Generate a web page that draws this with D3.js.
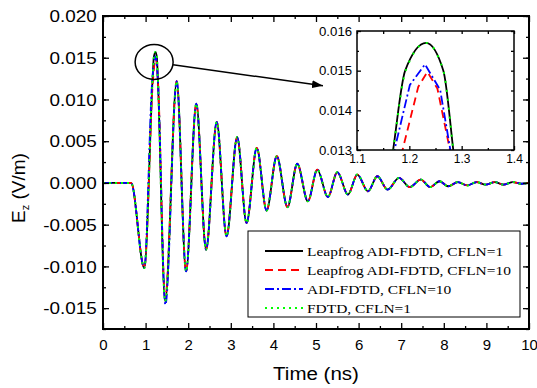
<!DOCTYPE html>
<html>
<head>
<meta charset="utf-8">
<script src="https://cdn.jsdelivr.net/npm/d3@7"></script>
<style>
  body { margin: 0; background: #fff; }
  svg { display: block; }
  text { font-family: "Liberation Sans", Arial, sans-serif; fill: #000; }
</style>
</head>
<body>
<svg id="chart" width="537" height="388"></svg>
<script>
// Ez (V/m) against time (ns)
const leadIn = [[0, 0], [0.66, 0], [0.97, -0.0102]];

// first big peak + first deep trough, per method
const headLeap1 = [[1.169, 0.0130], [1.192, 0.0150], [1.232, 0.0157], [1.265, 0.0150], [1.284, 0.0130], [1.46, -0.0142]];
const headLeap10 = [[1.17, 0.0121], [1.217, 0.01459], [1.2345, 0.01497], [1.2536, 0.01455], [1.29, 0.0122], [1.46, -0.0138]];
const headAdi10 = [[1.15, 0.0118], [1.201, 0.01464], [1.230, 0.01516], [1.259, 0.01451], [1.29, 0.0121], [1.465, -0.0146]];
const headFdtd1 = [[1.169, 0.0130], [1.193, 0.0150], [1.232, 0.0157], [1.265, 0.0150], [1.284, 0.0130], [1.46, -0.0142]];

// ring-down, all four traces lie on top of each other here
const ringDown = [
  [1.73, 0.0122], [1.95, -0.0106], [2.19, 0.0095], [2.42, -0.0080], [2.67, 0.0073],
  [2.90, -0.0064], [3.15, 0.0055], [3.37, -0.0048], [3.61, 0.0042], [3.84, -0.0033],
  [4.08, 0.0032], [4.33, -0.0029], [4.56, 0.0023], [4.81, -0.0022], [5.03, 0.0016],
  [5.28, -0.0017], [5.50, 0.0013], [5.75, -0.0014], [5.97, 0.0010], [6.22, -0.0010],
  [6.44, 0.0008], [6.68, -0.0008], [6.95, 0.0006], [7.20, -0.0005], [7.46, 0.0004],
  [7.68, -0.0005], [7.90, 0.0002], [8.10, -0.0004], [8.33, 0.0001], [8.55, -0.0003],
  [8.77, 0.0001], [8.98, -0.0002], [9.20, 0.0001], [9.40, -0.0002], [9.62, 0.0001],
  [9.82, -0.0001], [10, 0]
];

const legendNames = [
  'Leapfrog ADI-FDTD, CFLN=1',
  'Leapfrog ADI-FDTD, CFLN=10',
  'ADI-FDTD, CFLN=10',
  'FDTD, CFLN=1'
];

const xTicks = [0, 1, 2, 3, 4, 5, 6, 7, 8, 9, 10];
const yTicks = [-0.015, -0.010, -0.005, 0, 0.005, 0.010, 0.015, 0.020];
const insetXTicks = [1.1, 1.2, 1.3, 1.4];
const insetYTicks = [0.013, 0.014, 0.015, 0.016];

const svg = d3.select('#chart');

const x = d3.scaleLinear().domain([0, 10]).range([103, 529]);
const y = d3.scaleLinear().domain([-0.0175, 0.020]).range([329, 16]);

const series = [
  { pts: leadIn.concat(headLeap1, ringDown), color: '#000', width: 1.8, dash: null, insetDash: null, insetCurve: d3.curveMonotoneX },
  { pts: leadIn.concat(headLeap10, ringDown), color: '#ff0000', width: 1.8, dash: '8,5', insetDash: '8,5', insetCurve: d3.curveLinear },
  { pts: leadIn.concat(headAdi10, ringDown), color: '#0000ff', width: 1.8, dash: '9,3,2,3', insetDash: '9,3,2,3', insetCurve: d3.curveLinear },
  { pts: leadIn.concat(headFdtd1, ringDown), color: '#00ff00', width: 2, dash: '2,4', insetDash: '2,7', insetCurve: d3.curveMonotoneX }
];

const defs = svg.append('defs');
defs.append('clipPath').attr('id', 'clipMain')
  .append('rect').attr('x', 103).attr('y', 16).attr('width', 426).attr('height', 313);
defs.append('marker')
  .attr('id', 'arrow').attr('markerUnits', 'userSpaceOnUse')
  .attr('markerWidth', 11).attr('markerHeight', 8)
  .attr('refX', 11).attr('refY', 4).attr('orient', 'auto')
  .append('path').attr('d', 'M0,0 L11,4 L0,8 Z').attr('fill', '#000');

// ---- main traces
const line = d3.line().x(d => x(d[0])).y(d => y(d[1])).curve(d3.curveMonotoneX);

svg.append('g').attr('clip-path', 'url(#clipMain)')
  .selectAll('path').data(series).join('path')
  .attr('d', d => line(d.pts))
  .attr('fill', 'none')
  .attr('stroke', d => d.color)
  .attr('stroke-width', d => d.width)
  .attr('stroke-dasharray', d => d.dash);

// ---- axes, ticks inward + mirrored
// y labels in the figure are set a bit wide, x labels are not
function styleAxis(g, fontSize, sx) {
  g.select('.domain').remove();
  g.selectAll('line').attr('stroke', '#000').attr('stroke-width', 1.3);
  g.selectAll('text').style('font-size', fontSize + 'px').attr('transform', `scale(${sx || 1},1)`);
}

const xMinor = d3.range(0.5, 10, 1);
const yMinor = d3.range(-0.0175, 0.0201, 0.0025);

svg.append('g').attr('transform', 'translate(0,329)')
  .call(d3.axisBottom(x).tickValues(xTicks).tickSize(-6).tickSizeOuter(0).tickPadding(10).tickFormat(d3.format('d')))
  .call(g => styleAxis(g, 15));
svg.append('g').attr('transform', 'translate(0,329)')
  .call(d3.axisBottom(x).tickValues(xMinor).tickSize(-3).tickSizeOuter(0).tickFormat(''))
  .call(g => styleAxis(g, 15));
svg.append('g').attr('transform', 'translate(0,16)')
  .call(d3.axisTop(x).tickValues(xTicks).tickSize(-6).tickSizeOuter(0).tickFormat(''))
  .call(g => styleAxis(g, 15));
svg.append('g').attr('transform', 'translate(0,16)')
  .call(d3.axisTop(x).tickValues(xMinor).tickSize(-3).tickSizeOuter(0).tickFormat(''))
  .call(g => styleAxis(g, 15));

svg.append('g').attr('transform', 'translate(103,0)')
  .call(d3.axisLeft(y).tickValues(yTicks).tickSize(-6).tickSizeOuter(0).tickPadding(5.3).tickFormat(d => d.toFixed(3)))
  .call(g => styleAxis(g, 16, 1.18))
  .call(g => g.selectAll('text').attr('dy', '0.36em'));
svg.append('g').attr('transform', 'translate(103,0)')
  .call(d3.axisLeft(y).tickValues(yMinor).tickSize(-3).tickSizeOuter(0).tickFormat(''))
  .call(g => styleAxis(g, 16));
svg.append('g').attr('transform', 'translate(529,0)')
  .call(d3.axisRight(y).tickValues(yTicks).tickSize(-6).tickSizeOuter(0).tickFormat(''))
  .call(g => styleAxis(g, 16));
svg.append('g').attr('transform', 'translate(529,0)')
  .call(d3.axisRight(y).tickValues(yMinor).tickSize(-3).tickSizeOuter(0).tickFormat(''))
  .call(g => styleAxis(g, 16));

svg.append('rect')
  .attr('x', 103).attr('y', 16).attr('width', 426).attr('height', 313)
  .attr('fill', 'none').attr('stroke', '#000').attr('stroke-width', 2);

// axis titles
svg.append('text')
  .attr('transform', 'translate(316,380) scale(1.08,1)')
  .attr('text-anchor', 'middle')
  .style('font-size', '19px')
  .text('Time (ns)');

const yTitle = svg.append('text')
  .attr('transform', 'translate(25,188) rotate(-90)')
  .attr('text-anchor', 'middle')
  .style('font-size', '19px');
yTitle.append('tspan').text('E');
yTitle.append('tspan').attr('dy', 4).style('font-size', '11px').text('z');
yTitle.append('tspan').attr('dy', -4).text(' (V/m)');

// ---- zoom marker: ellipse round first peak, arrow to inset
svg.append('ellipse')
  .attr('cx', x(1.2)).attr('cy', y(0.0145))
  .attr('rx', 19).attr('ry', 17.5)
  .attr('fill', 'none').attr('stroke', '#000').attr('stroke-width', 1.5);

svg.append('line')
  .attr('x1', x(1.643)).attr('y1', y(0.01416))
  .attr('x2', x(5.164)).attr('y2', y(0.01164))
  .attr('stroke', '#000').attr('stroke-width', 1.5)
  .attr('marker-end', 'url(#arrow)');

// ---- inset
const ix = d3.scaleLinear().domain([1.1, 1.4]).range([357, 514]);
const iy = d3.scaleLinear().domain([0.013, 0.016]).range([150, 31]);

defs.append('clipPath').attr('id', 'clipInset')
  .append('rect').attr('x', 357).attr('y', 31).attr('width', 157).attr('height', 119);

const inset = svg.append('g');
inset.append('rect')
  .attr('x', 357).attr('y', 31).attr('width', 157).attr('height', 119)
  .attr('fill', '#fff');

inset.append('g').attr('clip-path', 'url(#clipInset)')
  .selectAll('path').data(series).join('path')
  .attr('d', d => d3.line().x(p => ix(p[0])).y(p => iy(p[1])).curve(d.insetCurve)(d.pts))
  .attr('fill', 'none')
  .attr('stroke', d => d.color)
  .attr('stroke-width', d => d.width)
  .attr('stroke-dasharray', d => d.insetDash);

const ixMinor = [1.15, 1.25, 1.35];
const iyMinor = [0.0135, 0.0145, 0.0155];

inset.append('g').attr('transform', 'translate(0,150)')
  .call(d3.axisBottom(ix).tickValues(insetXTicks).tickSize(-4).tickSizeOuter(0).tickPadding(4).tickFormat(d => d.toFixed(1)))
  .call(g => styleAxis(g, 12));
inset.append('g').attr('transform', 'translate(0,150)')
  .call(d3.axisBottom(ix).tickValues(ixMinor).tickSize(-2).tickSizeOuter(0).tickFormat(''))
  .call(g => styleAxis(g, 12));
inset.append('g').attr('transform', 'translate(0,31)')
  .call(d3.axisTop(ix).tickValues(insetXTicks.concat(ixMinor)).tickSize(-3).tickSizeOuter(0).tickFormat(''))
  .call(g => styleAxis(g, 12));
inset.append('g').attr('transform', 'translate(357,0)')
  .call(d3.axisLeft(iy).tickValues(insetYTicks).tickSize(-4).tickSizeOuter(0).tickPadding(4.5).tickFormat(d => d.toFixed(3)))
  .call(g => styleAxis(g, 12, 1.1))
  .call(g => g.selectAll('text').attr('dy', '0.36em'));
inset.append('g').attr('transform', 'translate(357,0)')
  .call(d3.axisLeft(iy).tickValues(iyMinor).tickSize(-2).tickSizeOuter(0).tickFormat(''))
  .call(g => styleAxis(g, 12));
inset.append('g').attr('transform', 'translate(514,0)')
  .call(d3.axisRight(iy).tickValues(insetYTicks.concat(iyMinor)).tickSize(-3).tickSizeOuter(0).tickFormat(''))
  .call(g => styleAxis(g, 12));

inset.append('rect')
  .attr('x', 357).attr('y', 31).attr('width', 157).attr('height', 119)
  .attr('fill', 'none').attr('stroke', '#000').attr('stroke-width', 1.5);

// ---- legend
const legend = svg.append('g');
legend.append('rect')
  .attr('x', 248).attr('y', 231).attr('width', 272).attr('height', 86)
  .attr('fill', '#fff').attr('stroke', '#000').attr('stroke-width', 1);

const rows = legend.selectAll('g.row').data(series).join('g')
  .attr('class', 'row')
  .attr('transform', (d, i) => `translate(0,${251 + i * 19})`);

rows.append('line')
  .attr('x1', 265).attr('x2', 303)
  .attr('stroke', d => d.color)
  .attr('stroke-width', d => d.width)
  .attr('stroke-dasharray', d => d.dash);

rows.append('text')
  .attr('transform', 'translate(307,4.5) scale(1.19,1)')
  .style('font-family', '"Liberation Serif", "Times New Roman", serif')
  .style('font-size', '13px')
  .text((d, i) => legendNames[i]);
</script>
</body>
</html>
